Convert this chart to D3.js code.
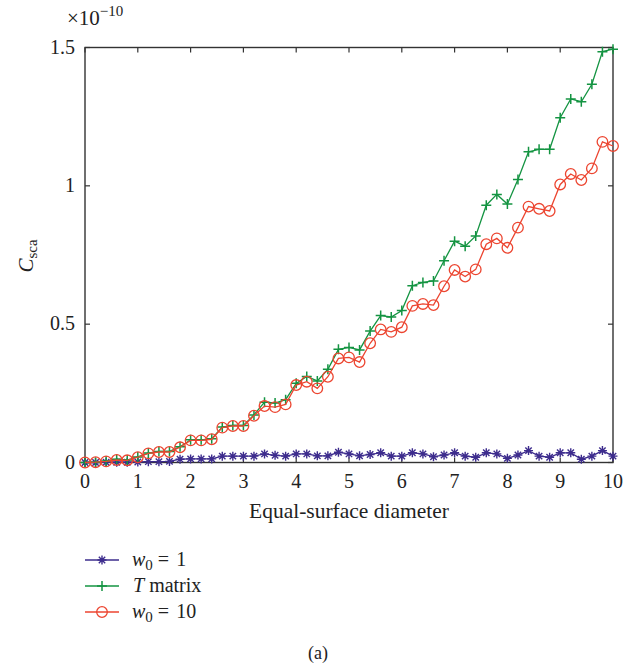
<!DOCTYPE html>
<html>
<head>
<meta charset="utf-8">
<script src="https://cdn.jsdelivr.net/npm/d3@7"></script>
<style>
  html, body { margin: 0; padding: 0; background: #fff; }
  svg { display: block; }
  text { font-family: "Liberation Serif", "Times New Roman", serif; fill: #222; }
</style>
</head>
<body>
<svg id="chart" width="636" height="669"></svg>
<script>
// Equal-surface diameter samples
const diameters = [0, 0.2, 0.4, 0.6, 0.8, 1, 1.2, 1.4, 1.6, 1.8, 2, 2.2, 2.4, 2.6, 2.8, 3, 3.2, 3.4, 3.6, 3.8,
  4, 4.2, 4.4, 4.6, 4.8, 5, 5.2, 5.4, 5.6, 5.8, 6, 6.2, 6.4, 6.6, 6.8, 7, 7.2, 7.4, 7.6, 7.8,
  8, 8.2, 8.4, 8.6, 8.8, 9, 9.2, 9.4, 9.6, 9.8, 10];

// Scattering cross-section, in units of 1e-10
const cscaW1 = [0, 0, 0.001, 0.001, 0.001, 0.002, 0.003, 0.003, 0.004, 0.012, 0.013, 0.013, 0.013, 0.023, 0.023, 0.023, 0.023, 0.031, 0.026, 0.023,
  0.031, 0.031, 0.024, 0.024, 0.037, 0.031, 0.024, 0.029, 0.035, 0.023, 0.023, 0.035, 0.031, 0.021, 0.027, 0.035, 0.023, 0.019, 0.035, 0.031,
  0.015, 0.027, 0.043, 0.023, 0.019, 0.035, 0.035, 0.012, 0.023, 0.043, 0.023];

const cscaTMatrix = [0, 0.001, 0.005, 0.012, 0.009, 0.020, 0.034, 0.040, 0.040, 0.057, 0.082, 0.082, 0.086, 0.128, 0.134, 0.134, 0.172, 0.218, 0.215, 0.227,
  0.286, 0.311, 0.295, 0.337, 0.409, 0.416, 0.407, 0.475, 0.531, 0.526, 0.549, 0.639, 0.651, 0.656, 0.729, 0.800, 0.782, 0.819, 0.930, 0.969,
  0.934, 1.023, 1.123, 1.132, 1.132, 1.246, 1.314, 1.304, 1.367, 1.485, 1.494];

const cscaW10 = [0, 0.001, 0.004, 0.009, 0.008, 0.019, 0.033, 0.038, 0.038, 0.055, 0.080, 0.080, 0.084, 0.126, 0.132, 0.132, 0.169, 0.204, 0.200, 0.210,
  0.280, 0.292, 0.268, 0.310, 0.376, 0.380, 0.363, 0.431, 0.481, 0.472, 0.489, 0.566, 0.573, 0.569, 0.637, 0.696, 0.672, 0.698, 0.789, 0.810,
  0.776, 0.849, 0.925, 0.917, 0.909, 1.005, 1.043, 1.021, 1.063, 1.159, 1.144];

const xTicks = [0, 1, 2, 3, 4, 5, 6, 7, 8, 9, 10];
const yTicks = [0, 0.5, 1, 1.5];
const yTickLabels = ["0", "0.5", "1", "1.5"];

const series = [
  { key: "w1", values: cscaW1, color: "#3d2c8d", marker: "asterisk" },
  { key: "tm", values: cscaTMatrix, color: "#149442", marker: "plus" },
  { key: "w10", values: cscaW10, color: "#ec4530", marker: "circle" }
];

const svg = d3.select("#chart");
const plotLeft = 85, plotRight = 613, plotTop = 47.5, plotBottom = 462.5;

const x = d3.scaleLinear().domain([0, 10]).range([plotLeft, plotRight]);
const y = d3.scaleLinear().domain([0, 1.5]).range([plotBottom, plotTop]);

const axisColor = "#333";
const tickLen = 5;

// Frame
svg.append("rect")
  .attr("x", plotLeft).attr("y", plotTop)
  .attr("width", plotRight - plotLeft).attr("height", plotBottom - plotTop)
  .attr("fill", "none").attr("stroke", axisColor).attr("stroke-width", 1.4);

// Inward ticks on all four sides
const tickG = svg.append("g").attr("stroke", axisColor).attr("stroke-width", 1.2);
xTicks.forEach(t => {
  tickG.append("line").attr("x1", x(t)).attr("x2", x(t)).attr("y1", plotBottom).attr("y2", plotBottom - tickLen);
  tickG.append("line").attr("x1", x(t)).attr("x2", x(t)).attr("y1", plotTop).attr("y2", plotTop + tickLen);
});
yTicks.forEach(t => {
  tickG.append("line").attr("x1", plotLeft).attr("x2", plotLeft + tickLen).attr("y1", y(t)).attr("y2", y(t));
  tickG.append("line").attr("x1", plotRight).attr("x2", plotRight - tickLen).attr("y1", y(t)).attr("y2", y(t));
});

// Tick labels
svg.append("g").selectAll("text").data(xTicks).join("text")
  .attr("x", d => x(d)).attr("y", plotBottom + 25)
  .attr("text-anchor", "middle").attr("font-size", 20)
  .text(d => d);

svg.append("g").selectAll("text").data(yTicks).join("text")
  .attr("x", plotLeft - 10).attr("y", d => y(d) + 6)
  .attr("text-anchor", "end").attr("font-size", 20)
  .text((d, i) => yTickLabels[i]);

// Exponent multiplier
const mult = svg.append("text").attr("x", 67).attr("y", 25).attr("font-size", 21);
mult.append("tspan").text("×10");
mult.append("tspan").attr("font-size", 15).attr("dy", -9).text("−10");

// Axis titles
svg.append("text").attr("x", (plotLeft + plotRight) / 2).attr("y", 518)
  .attr("text-anchor", "middle").attr("font-size", 21.5)
  .text("Equal-surface diameter");

const yt = svg.append("text").attr("transform", "translate(33,256) rotate(-90)")
  .attr("text-anchor", "middle").attr("font-size", 21);
yt.append("tspan").attr("font-style", "italic").text("C");
yt.append("tspan").attr("font-size", 15).attr("dy", 4).text("sca");

// Marker shapes
function drawMarker(g, type, cx, cy, color) {
  if (type === "circle") {
    g.append("circle").attr("cx", cx).attr("cy", cy).attr("r", 5.3)
      .attr("fill", "none").attr("stroke", color).attr("stroke-width", 1.3);
  } else if (type === "plus") {
    const s = 5;
    g.append("path").attr("d", `M${cx - s},${cy}H${cx + s}M${cx},${cy - s}V${cy + s}`)
      .attr("stroke", color).attr("stroke-width", 1.5).attr("fill", "none");
  } else {
    const s = 4.5, d = 3.2;
    g.append("path")
      .attr("d", `M${cx - s},${cy}H${cx + s}M${cx},${cy - s}V${cy + s}M${cx - d},${cy - d}L${cx + d},${cy + d}M${cx - d},${cy + d}L${cx + d},${cy - d}`)
      .attr("stroke", color).attr("stroke-width", 1.4).attr("fill", "none");
  }
}

const line = d3.line().x(d => x(d[0])).y(d => y(d[1]));

series.forEach(s => {
  const pts = diameters.map((dv, i) => [dv, s.values[i]]);
  const g = svg.append("g");
  g.append("path").datum(pts).attr("d", line)
    .attr("fill", "none").attr("stroke", s.color).attr("stroke-width", 1.3);
  pts.forEach(p => drawMarker(g, s.marker, x(p[0]), y(p[1]), s.color));
});

// Legend
const legendRows = [
  { s: series[0], y: 560 },
  { s: series[1], y: 586 },
  { s: series[2], y: 612 }
];
legendRows.forEach(r => {
  const g = svg.append("g");
  g.append("line").attr("x1", 85).attr("x2", 119).attr("y1", r.y).attr("y2", r.y)
    .attr("stroke", r.s.color).attr("stroke-width", 1.3);
  drawMarker(g, r.s.marker, 102, r.y, r.s.color);
});

function legendW(yPos, value) {
  const t = svg.append("text").attr("x", 132).attr("y", yPos + 6).attr("font-size", 20);
  t.append("tspan").attr("font-style", "italic").text("w");
  t.append("tspan").attr("font-size", 15).attr("dy", 4).text("0");
  t.append("tspan").attr("dy", -4).attr("dx", 5).text("=");
  t.append("tspan").attr("dx", 7).text(value);
}
legendW(560, "1");
const tmText = svg.append("text").attr("x", 133).attr("y", 592).attr("font-size", 20);
tmText.append("tspan").attr("font-style", "italic").text("T");
tmText.append("tspan").text(" matrix");
legendW(612, "10");

// Panel label
svg.append("text").attr("x", 318).attr("y", 659).attr("text-anchor", "middle")
  .attr("font-size", 18).text("(a)");
</script>
</body>
</html>
